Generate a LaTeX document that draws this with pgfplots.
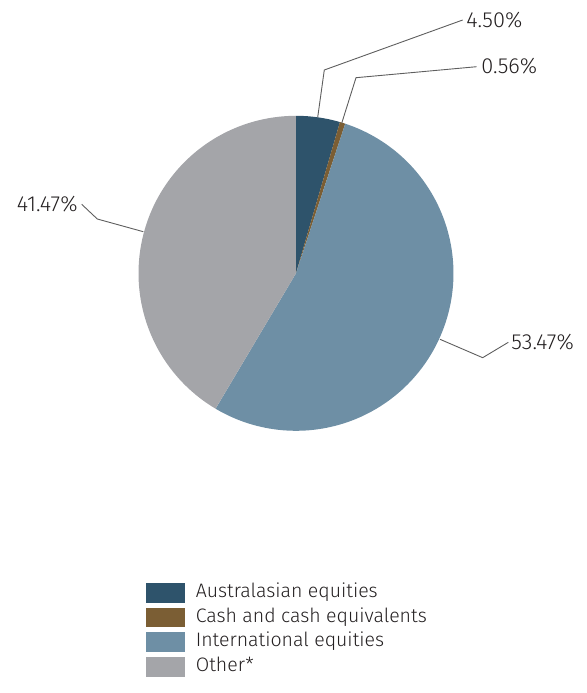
\documentclass[border=0pt]{standalone}
\usepackage{pgfplots}
\pgfplotsset{compat=1.18}
\usepackage{pgfplotstable}
\usepackage{fontspec}
\setmainfont{Fira Sans Light}
\definecolor{cAus}{HTML}{2E536B}
\definecolor{cCash}{HTML}{7B5E34}
\definecolor{cIntl}{HTML}{6E8FA5}
\definecolor{cOther}{HTML}{A4A5A9}
\definecolor{cLine}{HTML}{5E5E5E}
\definecolor{cText}{HTML}{231F20}
\pgfplotstableread{
label value
Australasian 4.50
Cash 0.56
International 53.47
Other 41.47
}\piedata
\pgfplotstablegetelem{0}{value}\of\piedata \let\vA\pgfplotsretval
\pgfplotstablegetelem{1}{value}\of\piedata \let\vB\pgfplotsretval
\pgfplotstablegetelem{2}{value}\of\piedata \let\vC\pgfplotsretval
\pgfplotstablegetelem{3}{value}\of\piedata \let\vD\pgfplotsretval
\pgfmathsetmacro\aZero{90}
\pgfmathsetmacro\aOne{\aZero-3.6*\vA}
\pgfmathsetmacro\aTwo{\aOne-3.6*\vB}
\pgfmathsetmacro\aThree{\aTwo-3.6*\vC}
\pgfmathsetmacro\aFour{\aThree-3.6*\vD}
\def\cx{296}
\def\cy{419.7}
\def\rr{157.5}
\begin{document}
\begin{tikzpicture}
\begin{axis}[
  scale only axis, width=293pt, height=346.5pt,
  xmin=0, xmax=586, ymin=0, ymax=693,
  hide axis, clip=false,
  legend image code/.code={\fill[#1] (0pt,-4.9pt) rectangle (19.2pt,4.9pt);},
  legend style={at={(axis cs:146,110.3)}, anchor=north west, draw=none, fill=none,
    inner sep=0pt, row sep=2.5pt, font=\fontsize{9.75}{11}\selectfont\color{cText},
    nodes={inner sep=0pt, text height=6.8pt, text depth=2.2pt}},
  legend cell align=left,
]
\path (rel axis cs:0,0) rectangle (rel axis cs:1,1);
\addplot[fill=cAus, draw=none, domain=\aOne:\aZero, samples=20]
  ({\cx+\rr*cos(x)},{\cy+\rr*sin(x)}) -- (axis cs:\cx,\cy) -- cycle;
\addlegendentry{\hspace{5.5pt}Australasian equities}
\addplot[fill=cCash, draw=none, domain=\aTwo:\aOne, samples=5]
  ({\cx+\rr*cos(x)},{\cy+\rr*sin(x)}) -- (axis cs:\cx,\cy) -- cycle;
\addlegendentry{\hspace{5.5pt}Cash and cash equivalents}
\addplot[fill=cIntl, draw=none, domain=\aThree:\aTwo, samples=120]
  ({\cx+\rr*cos(x)},{\cy+\rr*sin(x)}) -- (axis cs:\cx,\cy) -- cycle;
\addlegendentry{\hspace{5.5pt}International equities}
\addplot[fill=cOther, draw=none, domain=\aFour:\aThree, samples=100]
  ({\cx+\rr*cos(x)},{\cy+\rr*sin(x)}) -- (axis cs:\cx,\cy) -- cycle;
\addlegendentry{\hspace{5.5pt}Other*}
% leader lines
\addplot[cLine, line width=0.45pt, forget plot] coordinates {(462.7,673) (324.3,623) (317.7,575.7)};
\addplot[cLine, line width=0.45pt, forget plot] coordinates {(476.7,626.3) (356,615.3) (341.7,569.7)};
\addplot[cLine, line width=0.45pt, forget plot] coordinates {(440,353.7) (482.7,335.3) (508.3,350.7)};
\addplot[cLine, line width=0.45pt, forget plot] coordinates {(81.7,488.7) (97.3,474) (143.3,461.3)};
\node[anchor=west, inner sep=0pt, font=\fontsize{10.9}{12}\selectfont, text=cText] at (axis cs:466,673) {4.50\%};
\node[anchor=west, inner sep=0pt, font=\fontsize{10.9}{12}\selectfont, text=cText] at (axis cs:481,627) {0.56\%};
\node[anchor=west, inner sep=0pt, font=\fontsize{10.9}{12}\selectfont, text=cText] at (axis cs:511,351) {53.47\%};
\node[anchor=east, inner sep=0pt, font=\fontsize{10.9}{12}\selectfont, text=cText] at (axis cs:78,489) {41.47\%};
\end{axis}
\end{tikzpicture}
\end{document}
